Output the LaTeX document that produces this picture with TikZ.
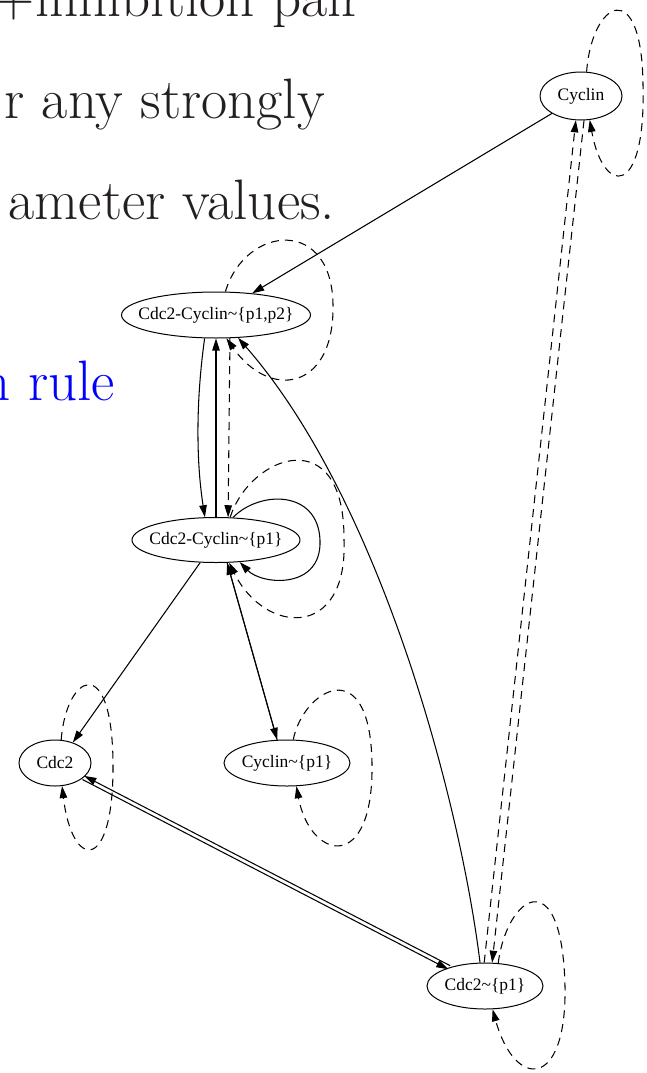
\documentclass[tikz,border=0pt]{standalone}
\usepackage{fontspec}
\newfontfamily\gvfont{Liberation Serif}
\usetikzlibrary{arrows.meta,shapes.geometric}
\definecolor{txtGray}{HTML}{231F20}
\newcommand{\gvlabel}[1]{\makebox[0pt]{#1}}
\newcommand{\gvt}{\textasciitilde}

\begin{document}
\begin{tikzpicture}[x=1pt, y=-1pt,
  st/.style={ellipse, draw, line width=1pt, inner sep=0pt,
    font=\gvfont\fontsize{17.5}{17.5}\selectfont},
  el/.style={line width=1.05pt, -{Triangle[length=12pt,width=7.5pt]}},
  dl/.style={el, dash pattern=on 8pt off 6pt},
  ln/.style={anchor=base east, inner sep=0pt, font=\fontsize{57}{60}\selectfont, text=txtGray},
]
\useasboundingbox (0,0) rectangle (646,1073);
\clip (0,0) rectangle (646,1073);
% slide text behind the graph
\node[ln] (t1) at (362,17) {+inhibition pair};
\node[ln] (t2) at (325,118) {r any strongly};
\node[ln] (t3) at (335,219) {ameter values.};
\node[ln, text=blue] (t4) at (115,400) {n rule};
% states
\node[st, minimum width=82pt, minimum height=48pt] (cy) at (581,96) {\gvlabel{Cyclin}};
\node[st, minimum width=189pt, minimum height=46pt] (cc12) at (216,315) {\gvlabel{Cdc2-Cyclin\gvt\{p1,p2\}}};
\node[st, minimum width=168pt, minimum height=45pt] (cc1) at (216,540) {\gvlabel{Cdc2-Cyclin\gvt\{p1\}}};
\node[st, minimum width=72pt, minimum height=46pt] (cd) at (55,763) {\gvlabel{Cdc2}};
\node[st, minimum width=126pt, minimum height=46pt] (cyp) at (287,763) {\gvlabel{Cyclin\gvt\{p1\}}};
\node[st, minimum width=116pt, minimum height=46pt] (cdp) at (485,986) {\gvlabel{Cdc2\gvt\{p1\}}};
% transitions
\draw[el] (cy) -- (cc12);
\draw[dl] (cc12.68) .. controls (245,225) and (335,215) .. (333,310) .. controls (332,390) and (270,400) .. (cc12.-66);
\draw[el] (cc12.-116) .. controls (196,400) and (196,460) .. (cc1.116);
\draw[el] (cc1) -- (cc12);
\draw[dl] (cc12.-59) -- (cc1.62);
\draw[el] (cdp.102) .. controls (460,800) and (380,500) .. (cc12.-46);
\draw[el] (cc1.53) .. controls (260,490) and (318,490) .. (320,540) .. controls (322,590) and (262,585) .. (cc1.-43);
\draw[dl] (cc1.58) .. controls (250,455) and (345,420) .. (344,540) .. controls (348,640) and (265,635) .. (cc1.-60);
\draw[el] (cc1.-64) -- (cyp.113);
\draw[el] (cyp.113) -- (cc1.-64);
\draw[el] (cc1.-125) -- (cd.49);
\draw[dl] (cd.75) .. controls (66,675) and (112,650) .. (113,763) .. controls (114,875) and (72,870) .. (cd.-73);
\draw[el, transform canvas={shift={(0.9pt,1.8pt)}}] (cdp) -- (cd);
\draw[el, transform canvas={shift={(-0.9pt,-1.8pt)}}] (cd) -- (cdp);
\draw[dl] (cyp.75) .. controls (303,690) and (370,650) .. (372,763) .. controls (374,875) and (310,860) .. (cyp.-68);
\draw[dl] (cdp.60) .. controls (507,895) and (562,860) .. (565,986) .. controls (567,1090) and (515,1090) .. (cdp.-72);
\draw[dl] (cy.77) .. controls (592,0) and (642,-25) .. (643,85) .. controls (646,200) and (603,195) .. (cy.-70);
\draw[dl] (cdp.92) -- (cy.-102);
\draw[dl] (cy.-83) -- (cdp.73);
\end{tikzpicture}
\end{document}
